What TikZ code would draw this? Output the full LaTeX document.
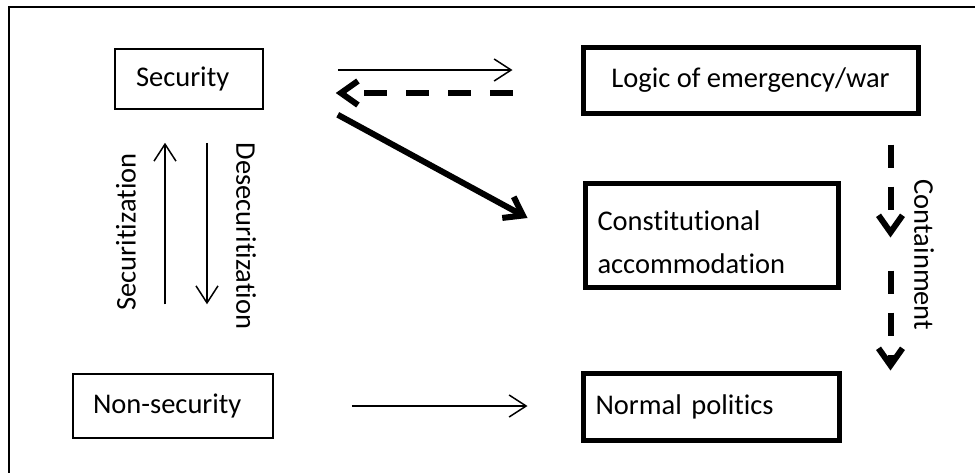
\documentclass[tikz,border=0pt]{standalone}
\usepackage{fontspec}
\setmainfont{Carlito}[Ligatures=NoCommon]
\usetikzlibrary{
    positioning,   % Relative positioning
    arrows.meta,   % Modern arrow tips
    calc           % Coordinate calculations
}

\tikzset{
    thinbox/.style={draw, line width=1.5pt, inner ysep=0pt, align=left},
    thickbox/.style={draw, line width=5pt, inner ysep=0pt, inner xsep=12.5pt, align=left},
    thinarrow/.style={line width=1.5pt, -{Straight Barb[length=17pt,width=22pt]}},
    thickarrow/.style={line width=6pt, -{Straight Barb[length=17pt,width=24pt]}},
    thickdash/.style={thickarrow, dash pattern=on 23pt off 19pt}
}

\begin{document}
\begin{tikzpicture}[x=1pt,y=-1pt,font=\fontsize{28.5}{34}\selectfont]
    \useasboundingbox (0,0) rectangle (975,472);
    \clip (0,0) rectangle (975,472);
    % outer frame
    \draw[line width=1.5pt] (9,7) rectangle (990,490);

    % boxes
    \node[thinbox, minimum height=60pt, text width=106pt, inner xsep=21pt] (sec) at (189,79) {Security};
    \node[thinbox, minimum height=64pt, text width=160pt, inner xsep=20pt] (nonsec) at (173,406) {Non-security};
    \node[thickbox, minimum width=335pt, minimum height=66pt, align=center, inner xsep=0pt] (logic) at (750.5,80) {Logic of emergency/war};
    \node[thickbox, minimum height=104pt, text width=228pt,
          font=\fontsize{28.5}{43}\selectfont] (constacc) at (711.5,235) {\rule{0pt}{34pt}Constitutional\\accommodation};
    \node[thickbox, minimum height=67pt, text width=231pt] (normpol) at (711,406.5) {Normal politics};

    % horizontal connectors
    \draw[thinarrow, shorten <=74pt, shorten >=68pt] ([yshift=9pt]sec.east) -- ([yshift=9pt]sec.east -| logic.west);
    \draw[thickdash, shorten <=68pt, shorten >=72pt] ([yshift=-13pt]logic.west) -- ([yshift=-13pt]logic.west -| sec.east);
    \draw[thickarrow] ($(sec.south east)+(74,5)$) -- ($(constacc.west)+(-55,-17)$);
    \draw[thinarrow, shorten <=78pt, shorten >=53pt] (nonsec.east) -- (nonsec.east -| normpol.west);

    % securitization / desecuritization
    \draw[thinarrow] ($(nonsec.north)+(-8,-69)$) -- ($(sec.south)+(-24,33)$);
    \draw[thinarrow] ($(sec.south)+(18,33)$) -- ($(nonsec.north)+(34,-69)$);
    \node[rotate=90] (securlbl) at (126,232) {Securitization};
    \node[rotate=-90] (desecurlbl) at (246,236) {Desecuritization};

    % containment
    \draw[thickdash] ($(logic.south east)+(-30,29)$) -- ($(logic.south east)+(-30,122)$);
    \draw[thickdash] ($(normpol.north east)+(49,-100)$) -- ($(normpol.north east)+(49,0)$);
    \node[rotate=-90] (contlbl) at (924,255) {Containment};
\end{tikzpicture}
\end{document}
